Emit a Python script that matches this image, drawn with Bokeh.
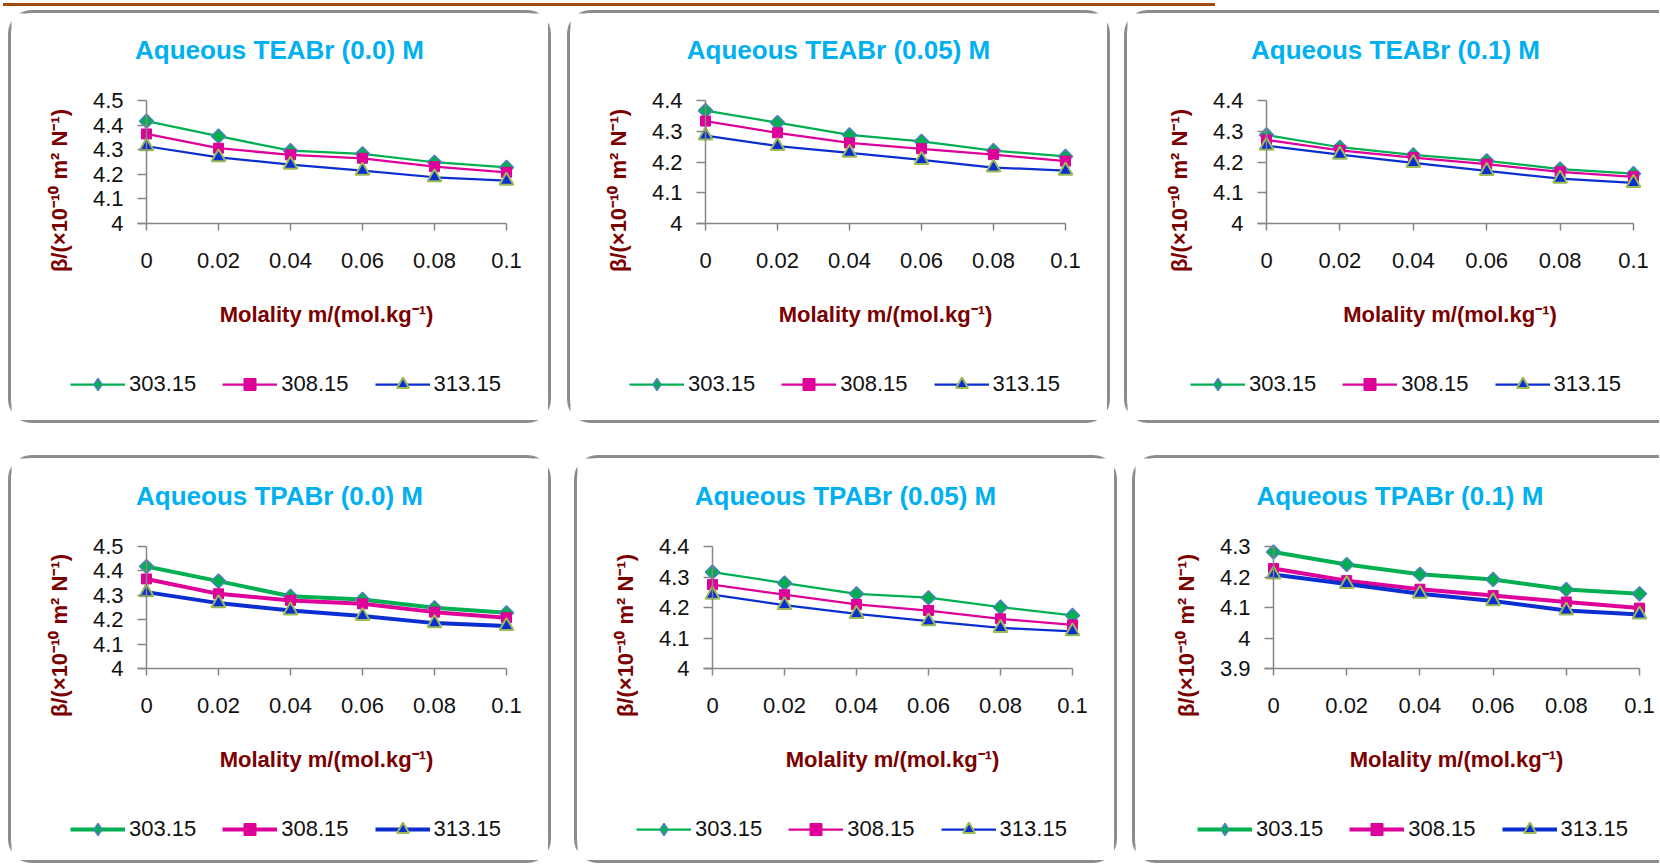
import math
from bokeh.plotting import figure
from bokeh.models import Range1d, FixedTicker, Legend, LegendItem, Div, Label
from bokeh.layouts import column, row
from bokeh.embed import file_html
from bokeh.resources import INLINE

# ---------------- data ----------------
molality = [0, 0.02, 0.04, 0.06, 0.08, 0.1]
x_tick_labels = ["0", "0.02", "0.04", "0.06", "0.08", "0.1"]
temperatures = ["303.15", "308.15", "313.15"]

teabr_00_303 = [4.416, 4.355, 4.296, 4.283, 4.249, 4.228]
teabr_00_308 = [4.364, 4.306, 4.279, 4.265, 4.231, 4.208]
teabr_00_313 = [4.314, 4.269, 4.239, 4.215, 4.188, 4.174]

teabr_005_303 = [4.367, 4.328, 4.288, 4.267, 4.237, 4.218]
teabr_005_308 = [4.333, 4.295, 4.262, 4.243, 4.224, 4.203]
teabr_005_313 = [4.286, 4.252, 4.230, 4.207, 4.182, 4.172]

teabr_01_303 = [4.288, 4.248, 4.223, 4.204, 4.177, 4.162]
teabr_01_308 = [4.272, 4.238, 4.214, 4.193, 4.168, 4.152]
teabr_01_313 = [4.253, 4.224, 4.197, 4.171, 4.146, 4.132]

tpabr_00_303 = [4.418, 4.358, 4.296, 4.283, 4.249, 4.228]
tpabr_00_308 = [4.367, 4.306, 4.279, 4.265, 4.231, 4.208]
tpabr_00_313 = [4.313, 4.268, 4.238, 4.215, 4.186, 4.174]

tpabr_005_303 = [4.316, 4.280, 4.245, 4.232, 4.201, 4.174]
tpabr_005_308 = [4.275, 4.242, 4.210, 4.190, 4.163, 4.143]
tpabr_005_313 = [4.242, 4.208, 4.179, 4.155, 4.133, 4.122]

tpabr_01_303 = [4.282, 4.241, 4.209, 4.192, 4.159, 4.145]
tpabr_01_308 = [4.228, 4.188, 4.160, 4.139, 4.118, 4.098]
tpabr_01_313 = [4.208, 4.177, 4.145, 4.121, 4.090, 4.077]

y_ticks_a = [4.0, 4.1, 4.2, 4.3, 4.4, 4.5]
y_labels_a = ["4", "4.1", "4.2", "4.3", "4.4", "4.5"]
y_ticks_b = [4.0, 4.1, 4.2, 4.3, 4.4]
y_labels_b = ["4", "4.1", "4.2", "4.3", "4.4"]
y_ticks_c = [3.9, 4.0, 4.1, 4.2, 4.3]
y_labels_c = ["3.9", "4", "4.1", "4.2", "4.3"]

titles = ["Aqueous TEABr (0.0) M", "Aqueous TEABr (0.05) M", "Aqueous TEABr (0.1) M",
          "Aqueous TPABr (0.0) M", "Aqueous TPABr (0.05) M", "Aqueous  TPABr (0.1) M"]

x_title = "Molality m/(mol.kg\u207b\u00b9)"
y_title = "\u03b2/(\u00d710\u207b\u00b9\u2070 m\u00b2 N\u207b\u00b9)"

# ---------------- style ----------------
FONT = "Liberation Sans"
TITLE_COLOR = "#00B0F0"
AXIS_TITLE_COLOR = "#7B0000"
AXIS_COLOR = "#868686"
TEXT_COLOR = "#111111"
BORDER = 3

series_style = [
    dict(color="#00B050", marker="square", angle=math.pi / 4, size=10,
         fill="#00B050", outline="#4F81BD", olw=1.5, legend_proxy="diamond"),
    dict(color="#DD0099", marker="square", angle=0, size=10,
         fill="#DD0099", outline="#DD0099", olw=1, legend_proxy=None),
    dict(color="#0A2ED0", marker="triangle", angle=0, size=14,
         fill="#0A2ED0", outline="#9BBB59", olw=2, legend_proxy=None),
]


def make_panel(title, series, yticks, ylabels, pw, ph, axis_left, tick_w,
               axis_top, axis_bottom, title_y, lw, right_border=True):
    """All positions are given in pixels of the outer (bordered) panel."""
    B = BORDER
    bl = B
    W, H = pw, ph                     # canvas (starts inside the left/top border)
    ymin, ymax = yticks[0], yticks[-1]
    xs = (molality[-1] - molality[0]) / tick_w          # data per px
    ys = (ymax - ymin) / (axis_bottom - axis_top)
    ax0 = axis_left - bl              # canvas x of molality 0
    ay0 = axis_bottom - B             # canvas y (from top) of ymin

    border_css = {"border": f"{B}px solid #8C8C8C", "border-radius": "24px",
                  "background-color": "white"}
    if not right_border:
        border_css = {"border": f"{B}px solid #8C8C8C", "border-right": "none",
                      "border-radius": "24px 0px 0px 24px", "background-color": "white"}

    p = figure(width=W, height=H, min_border=0,
               min_border_left=0, min_border_right=0, min_border_top=0, min_border_bottom=0,
               x_range=Range1d(-ax0 * xs, (W - ax0) * xs),
               y_range=Range1d(ymin - (H - ay0) * ys, ymin + ay0 * ys),
               output_backend="svg", toolbar_location=None, tools="", title=None,
               background_fill_color="white", border_fill_color="white",
               outline_line_color=None, styles=border_css)
    p.xgrid.visible = False
    p.ygrid.visible = False

    xa = p.xaxis[0]
    xa.fixed_location = ymin
    xa.ticker = FixedTicker(ticks=molality)
    xa.major_label_overrides = dict(zip(molality, x_tick_labels))
    xa.bounds = (-9 * xs, molality[-1])
    xa.axis_line_color = AXIS_COLOR
    xa.axis_line_width = 1.5
    xa.major_tick_line_color = AXIS_COLOR
    xa.major_tick_line_width = 1.5
    xa.major_tick_out = 7
    xa.major_tick_in = 0
    xa.minor_tick_out = 0
    xa.minor_tick_in = 0
    xa.major_label_standoff = 22
    xa.major_label_text_font = FONT
    xa.major_label_text_font_size = "22px"
    xa.major_label_text_color = TEXT_COLOR

    ya = p.yaxis[0]
    ya.fixed_location = 0
    ya.ticker = FixedTicker(ticks=yticks)
    ya.major_label_overrides = dict(zip(yticks, ylabels))
    ya.bounds = (ymin, ymax)
    ya.axis_line_color = AXIS_COLOR
    ya.axis_line_width = 1.5
    ya.major_tick_line_color = AXIS_COLOR
    ya.major_tick_line_width = 1.5
    ya.major_tick_out = 9
    ya.major_tick_in = 0
    ya.minor_tick_out = 0
    ya.minor_tick_in = 0
    ya.major_label_standoff = 14
    ya.major_label_text_font = FONT
    ya.major_label_text_font_size = "22px"
    ya.major_label_text_color = TEXT_COLOR

    items = []
    for vals, st, temp in zip(series, series_style, temperatures):
        lr = p.line(molality, vals, line_color=st["color"], line_width=lw)
        sr = p.scatter(molality, vals, marker=st["marker"], size=st["size"],
                       angle=st["angle"], fill_color=st["fill"],
                       line_color=st["outline"], line_width=st["olw"])
        if st["legend_proxy"]:
            # legend-only marker (its single point has no y value, so nothing is plotted)
            mr = p.scatter(x=[molality[0]], y=[float("nan")], marker=st["legend_proxy"],
                           size=16, fill_color=st["fill"], line_color=st["outline"],
                           line_width=st["olw"])
            items.append(LegendItem(label=temp, renderers=[lr, mr]))
        else:
            items.append(LegendItem(label=temp, renderers=[lr, sr]))

    def sx(px):   # panel x -> frame screen x
        return px - bl

    def sy(py):   # panel y (down) -> frame screen y (up from bottom)
        return H - (py - B)

    p.add_layout(Label(x=sx(271), y=sy(title_y), x_units="screen", y_units="screen",
                       text=title, text_align="center", text_baseline="middle",
                       text_font=FONT, text_font_style="bold", text_font_size="26px",
                       text_color=TITLE_COLOR))
    p.add_layout(Label(x=sx(axis_left + tick_w / 2), y=sy(axis_bottom + 91),
                       x_units="screen", y_units="screen", text=x_title,
                       text_align="center", text_baseline="middle",
                       text_font=FONT, text_font_style="bold", text_font_size="22px",
                       text_color=AXIS_TITLE_COLOR))
    p.add_layout(Label(x=sx(axis_left - 87), y=sy(axis_bottom - 33),
                       x_units="screen", y_units="screen", text=y_title,
                       angle=math.pi / 2, text_align="center", text_baseline="middle",
                       text_font=FONT, text_font_style="bold", text_font_size="22px",
                       text_color=AXIS_TITLE_COLOR))

    legend = Legend(items=items, orientation="horizontal",
                    location=(sx(axis_left - 76), sy(axis_bottom + 176)),
                    glyph_width=55, glyph_height=30, label_height=30,
                    label_standoff=4, spacing=26, padding=0, margin=0,
                    border_line_alpha=0, background_fill_alpha=0,
                    label_text_font=FONT, label_text_font_size="22px",
                    label_text_color=TEXT_COLOR)
    p.add_layout(legend)
    return p


p1 = make_panel(titles[0], [teabr_00_303, teabr_00_308, teabr_00_313],
                y_ticks_a, y_labels_a, 543, 413, 138, 360, 90, 213, 39.5, 2.25)
p2 = make_panel(titles[1], [teabr_005_303, teabr_005_308, teabr_005_313],
                y_ticks_b, y_labels_b, 543, 413, 138, 360, 90, 213, 39.5, 2.25)
p3 = make_panel(titles[2], [teabr_01_303, teabr_01_308, teabr_01_313],
                y_ticks_b, y_labels_b, 535, 413, 142, 367, 90, 213, 39.5, 2.25,
                right_border=False)
p4 = make_panel(titles[3], [tpabr_00_303, tpabr_00_308, tpabr_00_313],
                y_ticks_a, y_labels_a, 543, 408, 138, 360, 91, 213, 40.5, 4)
p5 = make_panel(titles[4], [tpabr_005_303, tpabr_005_308, tpabr_005_313],
                y_ticks_b, y_labels_b, 543, 408, 138, 360, 91, 213, 40.5, 2.25)
p6 = make_panel(titles[5], [tpabr_01_303, tpabr_01_308, tpabr_01_313],
                y_ticks_c, y_labels_c, 527, 408, 141, 366, 91, 213, 40.5, 4,
                right_border=False)

p1.margin = (0, 0, 0, 8)
p2.margin = (0, 0, 0, 16)
p3.margin = (0, 0, 0, 14)
p4.margin = (0, 0, 0, 8)
p5.margin = (0, 0, 0, 23)
p6.margin = (0, 0, 0, 15)

bar = Div(width=1212, height=3, margin=(3, 0, 0, 3),
          styles={"background-color": "#A24B0A"})
row1 = row(p1, p2, p3, spacing=0)
row1.margin = (4, 0, 0, 0)
row2 = row(p4, p5, p6, spacing=0)
row2.margin = (32, 0, 0, 0)
layout = column(bar, row1, row2, spacing=0)

open("out.html", "w").write(file_html(layout, INLINE))
